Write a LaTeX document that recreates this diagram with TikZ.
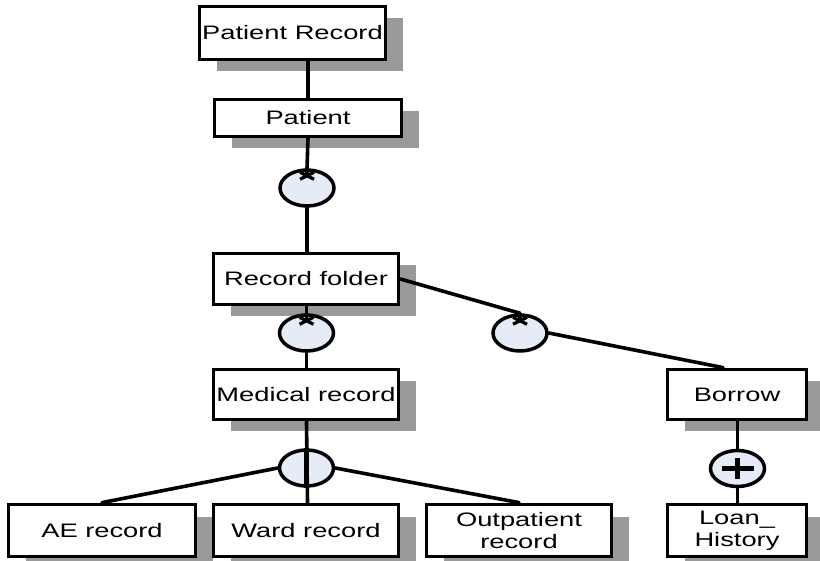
\documentclass[tikz,border=0pt]{standalone}
\usepackage{fontspec}
\setmainfont{Liberation Sans}[FakeStretch=1.4]
\usetikzlibrary{shapes.geometric,shadows}
\definecolor{shadowgray}{RGB}{153,153,153}
\definecolor{markfill}{RGB}{230,236,247}
\begin{document}
\begin{tikzpicture}[x=1pt,y=-1pt,
  entity/.style={rectangle, draw=black, line width=3.8pt, fill=white,
    inner sep=0pt, align=center,
    font=\fontsize{19.5}{22}\selectfont,
    drop shadow={shadow xshift=17pt, shadow yshift=-12pt,
      fill=shadowgray, opacity=1}},
  wide/.style={entity, minimum width=185pt},
  narrow/.style={entity, minimum width=139pt},
  marker/.style={ellipse, draw=black, line width=3.5pt, fill=markfill,
    minimum width=54pt, minimum height=36pt, inner sep=0pt},
  link/.style={line width=3.6pt, line cap=round},
  symbol/.style={line width=3.3pt}
]
\useasboundingbox (0,0) rectangle (820,561);

% entity boxes
\node[entity, minimum width=186pt, minimum height=53pt] (pr) at (292.5,33) {Patient Record};
\node[entity, minimum width=187pt, minimum height=37pt] (pat) at (308,118) {Patient};
\node[wide, minimum height=51pt] (folder) at (306,279) {Record folder};
\node[wide, minimum height=50pt] (med) at (306,394.5) {Medical record};
\node[narrow, minimum height=50pt] (borrow) at (737,394.5) {Borrow};
\node[entity, minimum width=187pt, minimum height=52pt] (ae) at (102,530.5) {AE record};
\node[wide, minimum height=52pt] (ward) at (306,530.5) {Ward record};
\node[wide, minimum height=52pt] (out) at (519,530.5) {Outpatient\\record};
\node[narrow, minimum height=52pt] (loan) at (737,530.5) {Loan\_\\History};

% relationship markers
\node[marker] (c1) at (307,188) {};
\node[marker] (c2) at (306.5,333) {};
\node[marker] (c3) at (520,333) {};
\node[marker] (c4) at (306.5,468) {};
\node[marker] (c5) at (737.5,468.5) {};

% connectors
\draw[link] (pat.north) -- (pat.north |- pr.south);
\draw[link] (pat.south) -- (c1.north);
\draw[link] (c1.south) -- (c1.south |- folder.north);
\draw[link] (c2.north |- folder.south) -- (c2.north);
\draw[link] (c2.south) -- (c2.south |- med.north);
\draw[link] (folder.east) -- (c3.north);
\draw[link] (c3.east) -- ([xshift=-14pt]borrow.north);
\draw[link] (c4.north |- med.south) -- ([xshift=1pt]c4.south |- ward.north);
\draw[line width=4.8pt] (c4.north) -- (c4.south);
\draw[link] (c4.west) -- (ae.north);
\draw[link] (c4.east) -- (out.north);
\draw[link] (c5.north) -- (c5.north |- borrow.south);
\draw[link] (c5.south) -- (c5.south |- loan.north);

% many-cardinality asterisks
\foreach \m in {c1,c2,c3}{
  \draw[symbol] ([shift={(-7,4)}]\m.north) -- ([shift={(7,11)}]\m.north);
  \draw[symbol] ([shift={(-7,11)}]\m.north) -- ([shift={(7,4)}]\m.north);
  \draw[symbol] (\m.north) -- ([shift={(0,8)}]\m.north);
}

% inclusive-or plus sign
\draw[line width=4.5pt] ([xshift=-16pt]c5.center) -- ([xshift=16pt]c5.center);
\draw[line width=4.5pt] ([yshift=-10pt]c5.center) -- ([yshift=10pt]c5.center);
\end{tikzpicture}
\end{document}
